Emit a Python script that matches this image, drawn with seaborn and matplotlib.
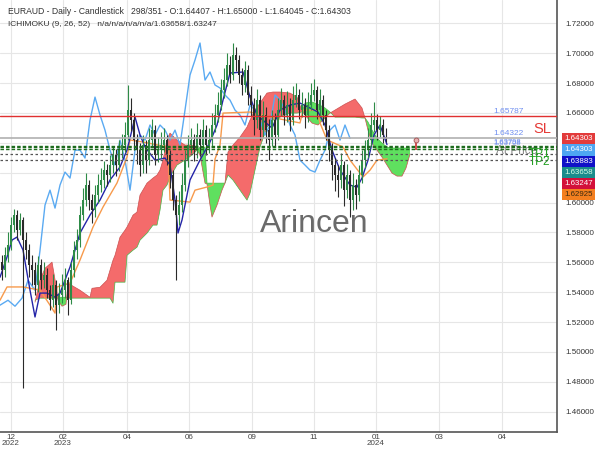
import numpy as np
import pandas as pd
import matplotlib
matplotlib.use("Agg")
import matplotlib.pyplot as plt
from matplotlib.patches import Rectangle
import seaborn as sns

sns.set_theme(style="white")
plt.rcParams['font.family'] = ['Liberation Sans', 'DejaVu Sans']

# ---------------- data ----------------
opens = [1.5600,1.5547,1.5647,1.5714,1.5849,1.5916,1.5815,1.5882,1.5748,1.5681,
         1.5580,1.5547,1.5446,1.5580,1.5480,1.5513,1.5413,1.5346,1.5446,1.5312,
         1.5379,1.5413,1.5480,1.5346,1.5547,1.5681,1.5748,1.5916,1.6016,1.6117,
         1.6016,1.5949,1.6050,1.6117,1.6150,1.6217,1.6184,1.6251,1.6318,1.6251,
         1.6351,1.6385,1.6452,1.6619,1.6552,1.6418,1.6351,1.6251,1.6385,1.6284,
         1.6418,1.6485,1.6318,1.6351,1.6385,1.6418,1.6318,1.6184,1.6016,1.5916,
         1.5983,1.6117,1.6284,1.6385,1.6418,1.6351,1.6452,1.6385,1.6485,1.6385,
         1.6418,1.6519,1.6586,1.6653,1.6753,1.6820,1.6921,1.6854,1.6988,1.6954,
         1.6854,1.6787,1.6887,1.6720,1.6653,1.6552,1.6686,1.6485,1.6586,1.6485,
         1.6418,1.6552,1.6452,1.6619,1.6686,1.6586,1.6653,1.6552,1.6686,1.6720,
         1.6619,1.6653,1.6586,1.6653,1.6720,1.6753,1.6619,1.6686,1.6586,1.6485,
         1.6351,1.6251,1.6184,1.6150,1.6251,1.6083,1.6184,1.6016,1.6117,1.6050,
         1.6184,1.6284,1.6351,1.6418,1.6519,1.6552,1.6485,1.6519,1.64407]
highs = [1.5650,1.5700,1.5800,1.5900,1.5960,1.5950,1.5930,1.5900,1.5800,1.5720,
         1.5650,1.5600,1.5640,1.5620,1.5600,1.5560,1.5450,1.5520,1.5480,1.5460,
         1.5520,1.5560,1.5500,1.5600,1.5740,1.5820,1.5980,1.6100,1.6200,1.6150,
         1.6060,1.6120,1.6190,1.6230,1.6280,1.6260,1.6320,1.6380,1.6360,1.6420,
         1.6460,1.6540,1.6787,1.6700,1.6600,1.6460,1.6400,1.6450,1.6420,1.6500,
         1.6560,1.6520,1.6440,1.6470,1.6500,1.6450,1.6350,1.6220,1.6050,1.6080,
         1.6200,1.6350,1.6450,1.6500,1.6460,1.6530,1.6490,1.6560,1.6520,1.6500,
         1.6600,1.6660,1.6740,1.6830,1.6900,1.7000,1.6980,1.7068,1.7040,1.6990,
         1.6900,1.6950,1.6920,1.6780,1.6700,1.6760,1.6720,1.6680,1.6640,1.6560,
         1.6620,1.6600,1.6700,1.6770,1.6720,1.6750,1.6700,1.6780,1.6800,1.6760,
         1.6740,1.6700,1.6740,1.6800,1.6830,1.6780,1.6760,1.6720,1.6620,1.6520,
         1.6400,1.6300,1.6250,1.6330,1.6280,1.6260,1.6220,1.6200,1.6160,1.6250,
         1.6350,1.6420,1.6500,1.6600,1.6670,1.6590,1.6580,1.6560,1.65000]
lows = [1.5480,1.5500,1.5600,1.5680,1.5800,1.5750,1.5780,1.4756,1.5620,1.5500,
        1.5450,1.5380,1.5400,1.5420,1.5430,1.5360,1.5280,1.5300,1.5145,1.5260,
        1.5330,1.5360,1.5250,1.5320,1.5500,1.5620,1.5700,1.5880,1.5980,1.5950,
        1.5860,1.5900,1.6000,1.6070,1.6100,1.6110,1.6140,1.6200,1.6180,1.6210,
        1.6300,1.6340,1.6420,1.6480,1.6350,1.6260,1.6180,1.6200,1.6200,1.6250,
        1.6380,1.6250,1.6270,1.6300,1.6340,1.6250,1.6100,1.5950,1.5480,1.5850,
        1.5940,1.6080,1.6240,1.6330,1.6280,1.6300,1.6310,1.6340,1.6320,1.6330,
        1.6380,1.6470,1.6540,1.6620,1.6700,1.6780,1.6800,1.6820,1.6880,1.6800,
        1.6720,1.6740,1.6650,1.6580,1.6450,1.6500,1.6420,1.6440,1.6400,1.6284,
        1.6380,1.6380,1.6420,1.6580,1.6520,1.6540,1.6480,1.6520,1.6640,1.6560,
        1.6570,1.6500,1.6540,1.6620,1.6680,1.6560,1.6580,1.6520,1.6420,1.6280,
        1.6150,1.6080,1.6040,1.6100,1.5980,1.6030,1.5900,1.5950,1.5960,1.6010,
        1.6130,1.6230,1.6300,1.6380,1.6470,1.6420,1.6440,1.6400,1.64045]
closes = [1.5547,1.5647,1.5714,1.5849,1.5916,1.5815,1.5882,1.5748,1.5681,1.5580,
          1.5547,1.5446,1.5580,1.5480,1.5513,1.5413,1.5346,1.5446,1.5312,1.5379,
          1.5413,1.5480,1.5346,1.5547,1.5681,1.5748,1.5916,1.6016,1.6117,1.6016,
          1.5949,1.6050,1.6117,1.6150,1.6217,1.6184,1.6251,1.6318,1.6251,1.6351,
          1.6385,1.6452,1.6619,1.6552,1.6418,1.6351,1.6251,1.6385,1.6284,1.6418,
          1.6485,1.6318,1.6351,1.6385,1.6418,1.6318,1.6184,1.6016,1.5916,1.5983,
          1.6117,1.6284,1.6385,1.6418,1.6351,1.6452,1.6385,1.6485,1.6385,1.6418,
          1.6519,1.6586,1.6653,1.6753,1.6820,1.6921,1.6854,1.6988,1.6954,1.6854,
          1.6787,1.6887,1.6720,1.6653,1.6552,1.6686,1.6485,1.6586,1.6485,1.6418,
          1.6552,1.6452,1.6619,1.6686,1.6586,1.6653,1.6552,1.6686,1.6720,1.6619,
          1.6653,1.6586,1.6653,1.6720,1.6753,1.6619,1.6686,1.6586,1.6485,1.6351,
          1.6251,1.6184,1.6150,1.6251,1.6083,1.6184,1.6016,1.6117,1.6050,1.6184,
          1.6284,1.6351,1.6418,1.6519,1.6552,1.6485,1.6519,1.6452,1.64303]

tenkan_x = [-0.67,1.67,3.33,5,7,9.33,11,12.67,15,17.67,19.33,21,22.67,24.33,26,29.33,32.67,36,39.33,41.67,
            43.33,44.33,46,47.67,51,54.33,56,57.67,58.67,60,62.67,66,69.33,71.67,73.67,76,80.33,82.67,85,87.67,
            90,92.67,96,99.33,102.67,105.33,107.67,110,112.67,116,118.33,120,122,124,126,128.33]
tenkan = [1.5500,1.5635,1.5749,1.5769,1.5682,1.5414,1.5234,1.5394,1.5394,1.5367,1.5394,1.5481,1.5568,1.5682,1.5796,
          1.5916,1.6017,1.6151,1.6238,1.6352,1.6486,1.6573,1.6453,1.6372,1.6284,1.6298,1.6251,1.6017,1.5796,1.5883,
          1.6151,1.6285,1.6405,1.6519,1.6686,1.6867,1.6874,1.6706,1.6586,1.6539,1.6499,1.6619,1.6653,1.6666,1.6633,
          1.6606,1.6519,1.6351,1.6218,1.6117,1.6103,1.6164,1.6284,1.6452,1.6519,1.63883]

kijun_x = [-0.67,1.67,7,12.67,16,17.67,18.33,22.67,26,30.33,33.67,38.33,41.67,42.67,47,55.33,56,62.67,64.33,68.33,
           70.33,71,72.67,73.67,82.67,89.33,99.33,100.33,105,106,108.33,113.67,116,120.33,122.67,125,128.33]
kijun = [1.5346,1.5435,1.5435,1.5414,1.5313,1.5260,1.5435,1.5461,1.5615,1.5836,1.5970,1.6131,1.6305,1.6419,1.6405,
         1.6372,1.6017,1.6003,1.6083,1.6104,1.6117,1.6291,1.6385,1.6599,1.6606,1.6573,1.6533,1.6619,1.6619,1.6533,
         1.6419,1.6372,1.6284,1.6171,1.6217,1.6284,1.62925]

chikou_x = [-0.67,2,4.33,6.67,8.67,11,12.67,14.33,16,17.67,19.33,21,22.67,24.33,26,27.67,29.33,31,32.67,34.33,
            36,37.67,39.33,41,42.67,44.33,46,47.67,49.33,51,52.67,54.33,56,57.67,59.33,61,62.67,64.33,66,67.67,
            69.33,71,72.67,74.33,76,77.67,79.33,81,82.67,84.33,86,87.67,89.33,91,92.67,94.33,96,97.67,99.33,101,
            102.67,104.33,106,107.67,109.33,111,112.67,114.33,116]
chikou = [1.5313,1.5346,1.5306,1.5360,1.5480,1.5413,1.5681,1.5983,1.6083,1.5963,1.6117,1.6204,1.6164,1.6351,1.6351,
          1.6298,1.6552,1.6706,1.6586,1.6485,1.6351,1.6251,1.6418,1.6284,1.6083,1.6351,1.6452,1.6418,1.6519,1.6452,
          1.6519,1.6485,1.6418,1.6485,1.6385,1.6619,1.6854,1.6954,1.7068,1.6820,1.6874,1.6787,1.6767,1.6720,1.6686,
          1.6619,1.6586,1.6519,1.6653,1.6619,1.6552,1.6452,1.6519,1.6720,1.6686,1.6619,1.6519,1.6452,1.6284,1.6251,
          1.6217,1.6204,1.6284,1.6351,1.6485,1.6519,1.6418,1.6519,1.6430]

cloud_x = [11,12.67,14.33,16.67,18,18.67,20,21.33,22,26,29.33,30,32.67,35,36,37,37.67,39.33,41,41.67,
           43.67,45,46,48.33,50.33,51.67,52.67,53.67,55,56,58.33,61,63.33,65,66,67.67,68.33,69.33,70,71.67,
           73.33,74.33,75.33,77,79.33,81.67,82.67,84.33,86,88.33,90.33,92.67,96,98.33,100,101,103.33,105.33,107.67,109.33,
           111,114.33,117.67,120,121,122,123.33,125,126.67,128.33,130,131.67,133.33,134.67,136]
span_a = [1.5346,1.5360,1.5360,1.5360,1.5360,1.5360,1.5366,1.5366,1.5360,1.5360,1.5360,1.5360,1.5360,1.5360,1.5360,
          1.5326,1.5467,1.5467,1.5467,1.5647,1.5681,1.5701,1.5748,1.5795,1.5849,1.5849,1.5949,1.6083,1.6117,1.6171,
          1.6251,1.6284,1.6318,1.6351,1.6371,1.6371,1.6130,1.6130,1.6130,1.6130,1.6130,1.6130,1.6184,1.6150,1.6083,
          1.6016,1.6063,1.6217,1.6371,1.6505,1.6552,1.6572,1.6599,1.6599,1.6606,1.6666,1.6673,1.6659,1.6633,1.6606,
          1.6572,1.6572,1.6572,1.6566,1.6566,1.6539,1.6485,1.6432,1.6398,1.6371,1.6365,1.6365,1.6365,1.6365,1.63658]
span_b = [1.5333,1.5480,1.5560,1.5601,1.5446,1.5346,1.5306,1.5319,1.5460,1.5413,1.5366,1.5426,1.5433,1.5480,1.5547,
          1.5614,1.5647,1.5768,1.5815,1.5836,1.5916,1.5936,1.6050,1.6130,1.6164,1.6184,1.6217,1.6284,1.6418,1.6465,
          1.6418,1.6385,1.6385,1.6351,1.6318,1.6130,1.6124,1.5983,1.5903,1.5983,1.6083,1.6130,1.6338,1.6385,1.6438,
          1.6505,1.6552,1.6619,1.6666,1.6733,1.6740,1.6740,1.6733,1.6706,1.6613,1.6586,1.6532,1.6519,1.6566,1.6599,
          1.6619,1.6659,1.6693,1.6633,1.6566,1.6485,1.6398,1.6351,1.6304,1.6251,1.6197,1.6177,1.6177,1.6231,1.63247]

x_tick_pos = [3, 20.33, 41.67, 62.33, 83.33, 104, 124.67, 145.67, 166.67]
x_tick_labels = ["12\n2022", "02\n2023", "04", "06", "09", "11", "01\n2024", "03", "04"]
y_ticks = [1.46, 1.48, 1.50, 1.52, 1.54, 1.56, 1.58, 1.60, 1.62, 1.64, 1.66, 1.68, 1.70, 1.72]
y_hidden = [1.62, 1.64]   # covered by the value boxes in the reference

sl_level = 1.65787
entry_level = 1.64322
green_levels = [1.63798, 1.63708, 1.63600]
tp_levels = [1.63230, 1.62840]

side_values = ["1.64303", "1.64303", "1.63883", "1.63658", "1.63247", "1.62925"]
side_colors = ["#e23b3b", "#4ea6f2", "#1010c8", "#1a8c8c", "#d3103a", "#f47f1f"]
side_text = ["white", "white", "white", "#d8ffe8", "white", "#3a2a10"]

# ---------------- figure ----------------
fig = plt.figure(figsize=(6, 4.5), dpi=100)
ax = fig.add_axes([0, 0.04, 557 / 600, 0.96])
ax.set_xlim(-0.67, 185)
ax.set_ylim(1.4464, 1.7356)

ax.set_yticks(y_ticks)
ax.set_yticklabels(["" if any(abs(v - hv) < 1e-9 for hv in y_hidden) else f"{v:.5f}" for v in y_ticks])
ax.yaxis.tick_right()
ax.set_xticks(x_tick_pos)
ax.set_xticklabels(x_tick_labels, linespacing=0.85)
ax.tick_params(axis='y', length=0, pad=6, labelsize=5.8, labelcolor='#333333')
ax.tick_params(axis='x', length=0, pad=1.5, labelsize=5.8, labelcolor='#444444')
ax.grid(True, color='#e6e6e6', lw=0.8, zorder=0)
ax.set_axisbelow(True)
for s in ['top', 'left']:
    ax.spines[s].set_visible(False)
for s in ['right', 'bottom']:
    ax.spines[s].set_color('#555555')
    ax.spines[s].set_linewidth(1.2)

# cloud
ca = np.array(span_a)
cb = np.array(span_b)
ax.fill_between(cloud_x, ca, cb, where=ca >= cb, interpolate=True,
                color='#5fe05f', lw=0, zorder=1)
ax.fill_between(cloud_x, ca, cb, where=ca < cb, interpolate=True,
                color='#f46b6b', lw=0, zorder=1)
ax.plot(cloud_x, span_a, color='#48b848', lw=0.5, zorder=1.2)
ax.plot(cloud_x, span_b, color='#cc5050', lw=0.5, zorder=1.2)

# indicator lines
df_t = pd.DataFrame({"x": tenkan_x, "y": tenkan})
df_k = pd.DataFrame({"x": kijun_x, "y": kijun})
df_c = pd.DataFrame({"x": chikou_x, "y": chikou})
sns.lineplot(data=df_c, x="x", y="y", ax=ax, color='#5aaaf2', lw=1.0, estimator=None, zorder=2)
sns.lineplot(data=df_k, x="x", y="y", ax=ax, color='#f79a4c', lw=1.0, estimator=None, zorder=2)
sns.lineplot(data=df_t, x="x", y="y", ax=ax, color='#2424a8', lw=1.0, estimator=None, zorder=2.5)

# candles
idx = np.arange(len(closes))
o = np.array(opens); c = np.array(closes); h = np.array(highs); l = np.array(lows)
up = c >= o
cols = np.where(up, '#2e8b47', '#2a2a2a')
ax.vlines(idx, l, h, colors=cols, lw=0.8, zorder=3)
ax.bar(idx, np.maximum(np.abs(c - o), 0.0006), bottom=np.minimum(o, c), width=0.55,
       color=cols, lw=0, zorder=3.1)
ax.set_xlabel(""); ax.set_ylabel("")

# levels
ax.axhline(sl_level, color='#e03030', lw=1.0, zorder=4)
ax.axhline(entry_level, color='#b0b0b0', lw=1.2, zorder=4)
for g in green_levels:
    ax.axhline(g, color='#1d6b1d', lw=1.0, ls=(0, (2.5, 1.5)), zorder=4)
for t in tp_levels:
    ax.axhline(t, color='#555555', lw=0.9, ls=(0, (2, 2)), zorder=4)

lab_x = 163.67
lab_c = '#6f8ff0'
ax.text(lab_x, sl_level + 0.0006, "1.65787", fontsize=6, color=lab_c, va='bottom', zorder=5)
ax.text(lab_x, entry_level + 0.0006, "1.64322", fontsize=6, color=lab_c, va='bottom', zorder=5)
ax.text(lab_x, green_levels[0] + 0.0002, "1.63798", fontsize=5.5, color=lab_c, va='bottom', zorder=5)
ax.text(lab_x + 0.3, green_levels[1] - 0.0001, "1.63708", fontsize=5.5, color=lab_c, va='bottom',
        zorder=5, alpha=0.85)
ax.text(183, 1.6491, "SL", fontsize=10.5, color='#e53935', ha='right', va='center', zorder=5)
ax.text(171.5, 1.6347, "At Price", fontsize=8.5, color='#8a8a8a', ha='center', va='center', zorder=3.5)
ax.text(179.2, 1.6322, "TP1", fontsize=8.5, color='#22a022', ha='center', va='center', zorder=5)
ax.text(179.2, 1.6272, "TP2", fontsize=8.5, color='#22a022', ha='center', va='center', zorder=5)

# small projected marker
ax.vlines([138], [1.6351], [1.6418], colors='#d04040', lw=1.3, zorder=5)
ax.plot([138], [1.6418], marker='o', ms=3.5, mfc='#e8b0b0', mec='#a05050', mew=0.6, zorder=5)

# watermark
ax.text(314 / 557, 1 - 224 / 432, "Arincen", transform=ax.transAxes, fontsize=23,
        color='#6a6a6a', ha='center', va='center', zorder=6)

# header
ax.text(8 / 557, 1 - 11 / 432,
        "EURAUD - Daily - Candlestick   298/351 - O:1.64407 - H:1.65000 - L:1.64045 - C:1.64303",
        transform=ax.transAxes, fontsize=6.2, color='#333333', va='center', zorder=6)
ax.text(8 / 557, 1 - 25 / 432, "ICHIMOKU (9, 26, 52)   n/a/n/a/n/a/n/a/1.63658/1.63247",
        transform=ax.transAxes, fontsize=6, color='#333333', va='center', zorder=6)

# right side value boxes
box_top = 133
box_h = 11.25
for k, (v, bc, tc) in enumerate(zip(side_values, side_colors, side_text)):
    top = box_top + k * box_h
    y0 = 1 - (top + box_h) / 450
    fig.add_artist(Rectangle((562 / 600, y0), 33 / 600, box_h / 450, transform=fig.transFigure,
                             facecolor=bc, edgecolor='none', zorder=10))
    fig.text(578.5 / 600, y0 + box_h / 900, v, fontsize=5.7, color=tc, ha='center', va='center', zorder=11)

fig.savefig("out.png", dpi=100)
